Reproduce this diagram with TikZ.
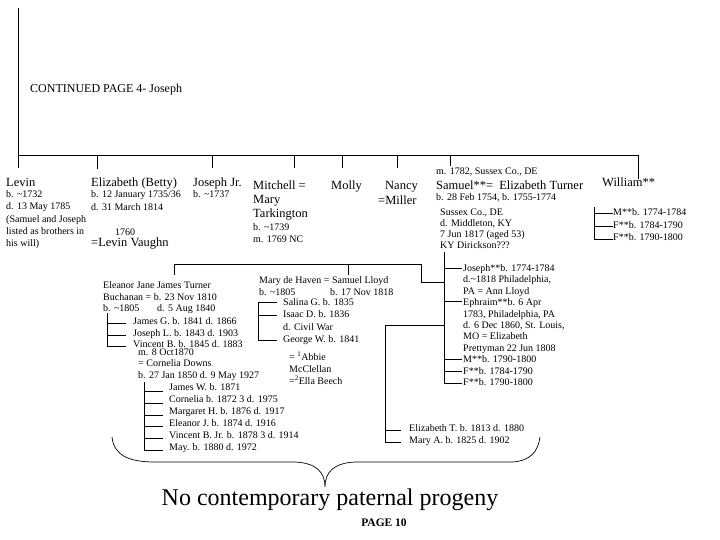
\documentclass[tikz,border=0pt]{standalone}
\usepackage{fontspec}
\setmainfont{Liberation Serif}
\begin{document}
\begin{tikzpicture}[x=1pt,y=-1pt,
  sm/.style={font=\fontsize{10}{12}\selectfont, anchor=base west, inner sep=0pt, align=left},
  lg/.style={font=\fontsize{12.5}{15}\selectfont, anchor=base west, inner sep=0pt, align=left},
  ln/.style={line width=0.8pt, black}]
\useasboundingbox (0,0) rectangle (720,540);

% ---------- texts (multi-line blocks are anchored at the baseline of their last line) ----------
\node[font=\fontsize{12}{14}\selectfont, anchor=base west, inner sep=0pt] (cont) at (30,93) {CONTINUED PAGE 4- Joseph};

\node[lg] (levin) at (6,186.5) {Levin};
\node[sm, font=\fontsize{10}{12.3}\selectfont] (levind) at (6,246.7) {b. \textasciitilde1732\\d. 13 May 1785\\(Samuel and Joseph\\listed as brothers in\\his will)};

\node[lg] (eliz) at (91,186.5) {Elizabeth (Betty)};
\node[sm, font=\fontsize{10}{12.8}\selectfont] (elizd) at (91,210.3) {b. 12 January 1735/36\\d. 31 March 1814};
\node[sm] (y1760) at (115,235.5) {1760};
\node[lg] (vaughn) at (91,246.5) {=Levin Vaughn};

\node[lg] (josjr) at (193,186.5) {Joseph Jr.};
\node[sm] (josjrd) at (193,197.5) {b. \textasciitilde1737};

\node[lg, font=\fontsize{12.5}{14}\selectfont] (mitch) at (253,217.5) {Mitchell =\\Mary\\Tarkington};
\node[sm] (mitchd) at (253,242.5) {b. \textasciitilde1739\\m. 1769 NC};

\node[lg] (molly) at (331,189.5) {Molly};
\node[lg] (nancy) at (385,189.5) {Nancy};
\node[lg] (miller) at (378,204.5) {=Miller};

\node[sm] (sammar) at (436,174.5) {m. 1782, Sussex Co., DE};
\node[lg] (samuel) at (436,189.5) {Samuel**=\hspace{6pt}Elizabeth Turner};
\node[sm] (samb) at (436,200.5) {b. 28 Feb 1754, b. 1755-1774};
\node[sm, font=\fontsize{10}{11}\selectfont] (samd) at (440,248.5) {Sussex Co., DE\\d. Middleton, KY\\7 Jun 1817 (aged 53)\\KY Dirickson???};

\node[lg] (william) at (602,186.5) {William**};
\node[sm, font=\fontsize{10}{12.5}\selectfont] (willch) at (613,240.5) {M**b. 1774-1784\\F**b. 1784-1790\\F**b. 1790-1800};

\node[sm] (eleanor) at (103,300.5) {Eleanor Jane James Turner\\Buchanan = b. 23 Nov 1810};
\node[sm] (eleb) at (103,311.5) {b. \textasciitilde1805};
\node[sm] (eled) at (157,311.5) {d. 5 Aug 1840};
\node[sm, font=\fontsize{10}{11.7}\selectfont] (elech) at (133,347.9) {James G. b. 1841 d. 1866\\Joseph L. b. 1843 d. 1903\\Vincent B. b. 1845 d. 1883};
\node[sm] (vinm) at (138,355.5) {m. 8 Oct1870};
\node[sm, font=\fontsize{10}{12}\selectfont] (cornelia) at (138,378.5) {= Cornelia Downs\\b. 27 Jan 1850 d. 9 May 1927};
\node[sm, font=\fontsize{10}{12}\selectfont] (vinch) at (169,450.5) {James W. b. 1871\\Cornelia b. 1872 3 d. 1975\\Margaret H. b. 1876 d. 1917\\Eleanor J. b. 1874 d. 1916\\Vincent B. Jr. b. 1878 3 d. 1914\\May. b. 1880 d. 1972};

\node[sm] (mary) at (259,283.5) {Mary de Haven = Samuel Lloyd};
\node[sm] (maryb) at (259,295.5) {b. \textasciitilde1805};
\node[sm] (slb) at (330,295.5) {b. 17 Nov 1818};
\node[sm, font=\fontsize{10}{12.3}\selectfont] (lloydch) at (283,342.4) {Salina G. b. 1835\\Isaac D. b. 1836\\d. Civil War\\George W. b. 1841};
\node[sm, font=\fontsize{10}{12}\selectfont] (abbie) at (289,384.5) {= \textsuperscript{1}Abbie\\McClellan\\=\textsuperscript{2}Ella Beech};

\node[sm, font=\fontsize{10}{11.4}\selectfont] (samch) at (463,385.5) {Joseph**b. 1774-1784\\d.\textasciitilde1818 Philadelphia,\\PA = Ann Lloyd\\Ephraim**b. 6 Apr\\1783, Philadelphia, PA\\d. 6 Dec 1860, St. Louis,\\MO = Elizabeth\\Prettyman 22 Jun 1808\\M**b. 1790-1800\\F**b. 1784-1790\\F**b. 1790-1800};

\node[sm, font=\fontsize{10}{12}\selectfont] (elizt) at (409,443.5) {Elizabeth T. b. 1813 d. 1880\\Mary A. b. 1825 d. 1902};

\node[font=\fontsize{24}{28}\selectfont, inner sep=0pt] (noprog) at (330,500) {No contemporary paternal progeny};
\node[font=\fontsize{11.5}{13}\selectfont\bfseries, inner sep=0pt] (page) at (384,523) {PAGE 10};

% ---------- connectors ----------
\coordinate (top) at (18,8);
\coordinate (barL) at (18,155);
\coordinate (barR) at (638,155);
\draw[ln] (top) -- (18,168);
\draw[ln] (barL) -- (barR);
\draw[ln] (97,155) -- (97,169);
\draw[ln] (212,155) -- (212,168);
\draw[ln] (294,155) -- (294,168);
\draw[ln] (342,155) -- (342,168);
\draw[ln] (397,155) -- (397,168);
\draw[ln] (450,155) -- (450,166);
\draw[ln] (barR) -- (638,179);

% William's children
\draw[ln] (594,207) -- (594,239) -- (613,239);
\draw[ln] (594,213) -- (613,213);
\draw[ln] (594,226) -- (613,226);

% Samuel's children
\coordinate (samtop) at (444,252);
\draw[ln] (samtop) -- (444,383) -- (462,383);
\foreach \yy in {268,301,359,371} \draw[ln] (444,\yy) -- (462,\yy);
\draw[ln] (444,325) -- (385,325) -- (385,442) -- (401,442);
\draw[ln] (385,430) -- (401,430);

% Lloyd bar
\draw[ln] (174,275) -- (174,264) -- (421,264) -- (421,282) -- (444,282);
\draw[ln] (348,264) -- (348,275);

% Eleanor's children
\draw[ln] (107,313) -- (107,346) -- (126,346);
\draw[ln] (107,323) -- (126,323);
\draw[ln] (107,335) -- (126,335);

% Vincent's children
\draw[ln] (144,382) -- (144,450) -- (163,450);
\foreach \yy in {391,403,415,426,438} \draw[ln] (144,\yy) -- (163,\yy);

% Lloyd children
\draw[ln] (277,302) -- (258,302) -- (258,340) -- (277,340);
\draw[ln] (258,315) -- (277,315);

% brace
\draw[line width=0.7pt] (112,437) .. controls (114,455) and (128,462) .. (155,462)
  -- (295,462) .. controls (316,463) and (325,472) .. (325,487)
  .. controls (325,472) and (334,463) .. (355,462)
  -- (512,462) .. controls (530,461) and (538,452) .. (540,437);
\end{tikzpicture}
\end{document}
